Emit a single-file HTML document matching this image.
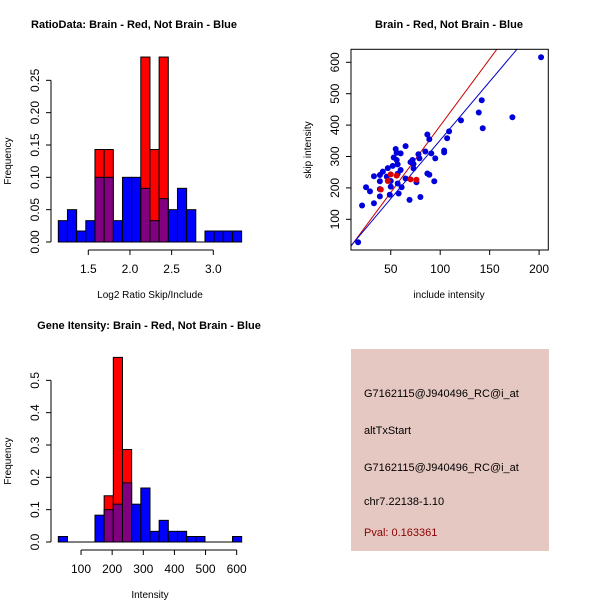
<!DOCTYPE html>
<html><head><meta charset="utf-8"><style>
html,body{margin:0;padding:0;background:#fff;}
svg{display:block;font-family:"Liberation Sans",sans-serif;}
</style></head><body>
<svg id="c" width="600" height="600" viewBox="0 0 600 600">
<rect width="600" height="600" fill="#fff"/>
<g>
<rect x="351" y="349" width="198" height="202" fill="#e6c8c2"/>
<text x="364" y="397" font-size="11" fill="#000">G7162115@J940496_RC@i_at</text>
<text x="364" y="434" font-size="11" fill="#000">altTxStart</text>
<text x="364" y="471" font-size="11" fill="#000">G7162115@J940496_RC@i_at</text>
<text x="364" y="505" font-size="11" fill="#000">chr7.22138-1.10</text>
<text x="364" y="536" font-size="11" fill="#8b0000">Pval: 0.163361</text>
</g>
</svg>
<script>
// ---- Histogram 1 data ----
const h1Start = 1.14, h1Width = 0.11;
const h1Blue = [0.033,0.05,0.017,0.033,0.1,0.1,0.033,0.1,0.1,0.083,0.033,0.067,0.05,0.083,0.05,0,0.017,0.017,0.017,0.017];
const h1Red  = [0,0,0,0,0.143,0.143,0,0,0,0.286,0.143,0.286,0,0,0,0,0,0,0,0];
const h1XTicks = [1.5,2.0,2.5,3.0];
const h1XTickLabels = ["1.5","2.0","2.5","3.0"];
const h1YTicks = [0,0.05,0.10,0.15,0.20,0.25];
const h1YTickLabels = ["0.00","0.05","0.10","0.15","0.20","0.25"];
// ---- Histogram 2 data ----
const h2Start = 27, h2Width = 29.45;
const h2Blue = [0.017,0,0,0,0.083,0.1,0.117,0.183,0.117,0.167,0.033,0.067,0.033,0.033,0.017,0.017,0,0,0,0.017];
const h2Red  = [0,0,0,0,0,0.143,0.571,0.286,0,0,0,0,0,0,0,0,0,0,0,0];
const h2XTicks = [100,200,300,400,500,600];
const h2XTickLabels = ["100","200","300","400","500","600"];
const h2YTicks = [0,0.1,0.2,0.3,0.4,0.5];
const h2YTickLabels = ["0.0","0.1","0.2","0.3","0.4","0.5"];
// ---- Scatter data ----
const blueInclude = [17,21,25,29,33,33,39,39,39,39,42,46,47,49,50,50,52,53,55,56,56,57,57,57,58,60,60,61,65,65,69,70,72,73,73,76,78,79,80,85,87,87,89,89,91,94,95,104,104,107,109,121,139,142,143,173,202];
const blueSkip    = [27,144,202,189,151,237,241,221,196,173,252,236,263,178,204,222,270,297,324,312,289,275,245,214,182,310,257,202,333,230,162,282,289,262,276,218,307,294,171,316,370,246,355,242,310,221,294,319,313,358,380,415,440,479,390,425,616];
const redInclude = [40,47,50,56,70,76];
const redSkip    = [195,222,243,239,227,226];
const redLine = [4.25,-27];   // slope, intercept
const blueLine = [3.73,-21];
const scXTicks = [50,100,150,200];
const scXTickLabels = ["50","100","150","200"];
const scYTicks = [100,200,300,400,500,600];
const scYTickLabels = ["100","200","300","400","500","600"];

const svg = document.getElementById('c');
const NS = 'http://www.w3.org/2000/svg';
function mk(tag, attrs, parent){const e=document.createElementNS(NS,tag);for(const k in attrs)e.setAttribute(k,attrs[k]);(parent||svg).appendChild(e);return e;}
function txt(x,y,s,size,parent,extra){const t=mk('text',Object.assign({x:x,y:y,'font-size':size,'text-anchor':'middle'},extra||{}),parent);t.textContent=s;return t;}

function hist(g, start, width, blue, red, xs, ys, xTicks, xLabels, yTicks, yLabels, axisY, title, xlab, titleX, titleY){
  const col = '#000';
  for(let i=0;i<blue.length;i++){
    const x0=xs(start+i*width), x1=xs(start+(i+1)*width);
    const b=blue[i], r=red[i];
    if(r>0){
      const e=mk('rect',{x:x0,y:ys(r),width:x1-x0,height:ys(0)-ys(r),fill:'#ff0000',stroke:col,'stroke-width':1},g);
      
      
    }
    if(b>0){
      const fill = r>0 ? '#800080' : '#0000ff';
      const top = r>0 ? Math.min(b,r) : b;
      const e=mk('rect',{x:x0,y:ys(top),width:x1-x0,height:ys(0)-ys(top),fill:fill,stroke:col,'stroke-width':1},g);
      
      
      if(r>0 && b>r){
        const e2=mk('rect',{x:x0,y:ys(b),width:x1-x0,height:ys(r)-ys(b),fill:'#0000ff',stroke:col,'stroke-width':1},g);
        
        
      }
    }
  }
  mk('line',{x1:xs(start),x2:xs(start+blue.length*width),y1:ys(0),y2:ys(0),stroke:col},g);
  const xa=mk('g',{},g);
  
  
  mk('line',{x1:xs(xTicks[0]),x2:xs(xTicks[xTicks.length-1]),y1:axisY,y2:axisY,stroke:col},xa);
  xTicks.forEach((v,i)=>{mk('line',{x1:xs(v),x2:xs(v),y1:axisY,y2:axisY+5,stroke:col},xa);txt(xs(v),axisY+23,xLabels[i],12,xa);});
  const ya=mk('g',{},g);
  
  
  const ax=51;
  mk('line',{x1:ax,x2:ax,y1:ys(yTicks[0]),y2:ys(yTicks[yTicks.length-1]),stroke:col},ya);
  yTicks.forEach((v,i)=>{mk('line',{x1:ax,x2:ax-5,y1:ys(v),y2:ys(v),stroke:col},ya);txt(0,0,yLabels[i],12,ya,{transform:`translate(${ax-12},${ys(v)}) rotate(-90)`});});
  const yt=txt(0,0,'Frequency',10,g,{transform:`translate(11,${(ys(0)+ys(yTicks[yTicks.length-1]))/2}) rotate(-90)`});
  
  
  const xt=txt((xs(start)+xs(start+blue.length*width))/2, axisY+48, xlab, 10, g);
  
  
  const tt=txt(titleX,titleY,title,11,g,{'font-weight':'bold'});
  
  
}

const g1=mk('g',{});


const xs1=v=>88.3+(v-1.5)*83.33, ys1=v=>242-v*646.7;
hist(g1,h1Start,h1Width,h1Blue,h1Red,xs1,ys1,h1XTicks,h1XTickLabels,h1YTicks,h1YTickLabels,250,'RatioData: Brain - Red, Not Brain - Blue','Log2 Ratio Skip/Include',134,28);

const g3=mk('g',{});


const xs3=v=>49.9+v*0.3113, ys3=v=>542-v*323.3;
hist(g3,h2Start,h2Width,h2Blue,h2Red,xs3,ys3,h2XTicks,h2XTickLabels,h2YTicks,h2YTickLabels,550,'Gene Itensity: Brain - Red, Not Brain - Blue','Intensity',149,329);

const g2=mk('g',{});


const xs2=v=>341.3+v*0.989, ys2=v=>250.7-v*0.314;
const L=351,R=548.3,T=49.3,B=250;
const cp=mk('clipPath',{id:'cp'},g2);
mk('rect',{x:L,y:T,width:R-L,height:B-T},cp);
function abl(p,color,name){
  const x0=(L-341.3)/0.989, x1=(R-341.3)/0.989;
  const e=mk('line',{x1:xs2(x0),y1:ys2(p[0]*x0+p[1]),x2:xs2(x1),y2:ys2(p[0]*x1+p[1]),stroke:color,'stroke-width':1,'clip-path':'url(#cp)'},g2);
  
  
}
abl(redLine,'#cc0000','red-fit-line');
abl(blueLine,'#0000cc','blue-fit-line');
for(let i=0;i<blueInclude.length;i++){
  const c=mk('circle',{cx:xs2(blueInclude[i]),cy:ys2(blueSkip[i]),r:3,fill:'#0000dd','clip-path':'url(#cp)'},g2);
  
  
}
for(let i=0;i<redInclude.length;i++){
  const c=mk('circle',{cx:xs2(redInclude[i]),cy:ys2(redSkip[i]),r:3,fill:'#dd0000'},g2);
  
  
}
mk('rect',{x:L,y:T,width:R-L,height:B-T,fill:'none',stroke:'#000'},g2);
const sxa=mk('g',{},g2);


scXTicks.forEach((v,i)=>{mk('line',{x1:xs2(v),x2:xs2(v),y1:B,y2:B+5,stroke:'#000'},sxa);txt(xs2(v),B+23,scXTickLabels[i],12,sxa);});
const sya=mk('g',{},g2);


scYTicks.forEach((v,i)=>{mk('line',{x1:L,x2:L-5,y1:ys2(v),y2:ys2(v),stroke:'#000'},sya);txt(0,0,scYTickLabels[i],12,sya,{transform:`translate(${L-12},${ys2(v)}) rotate(-90)`});});
const sxt=txt(449,298,'include intensity',10,g2);


const syt=txt(0,0,'skip intensity',10,g2,{transform:'translate(311,150) rotate(-90)'});


const stt=txt(449,28,'Brain - Red, Not Brain - Blue',11,g2,{'font-weight':'bold'});


</script>
</body></html>
